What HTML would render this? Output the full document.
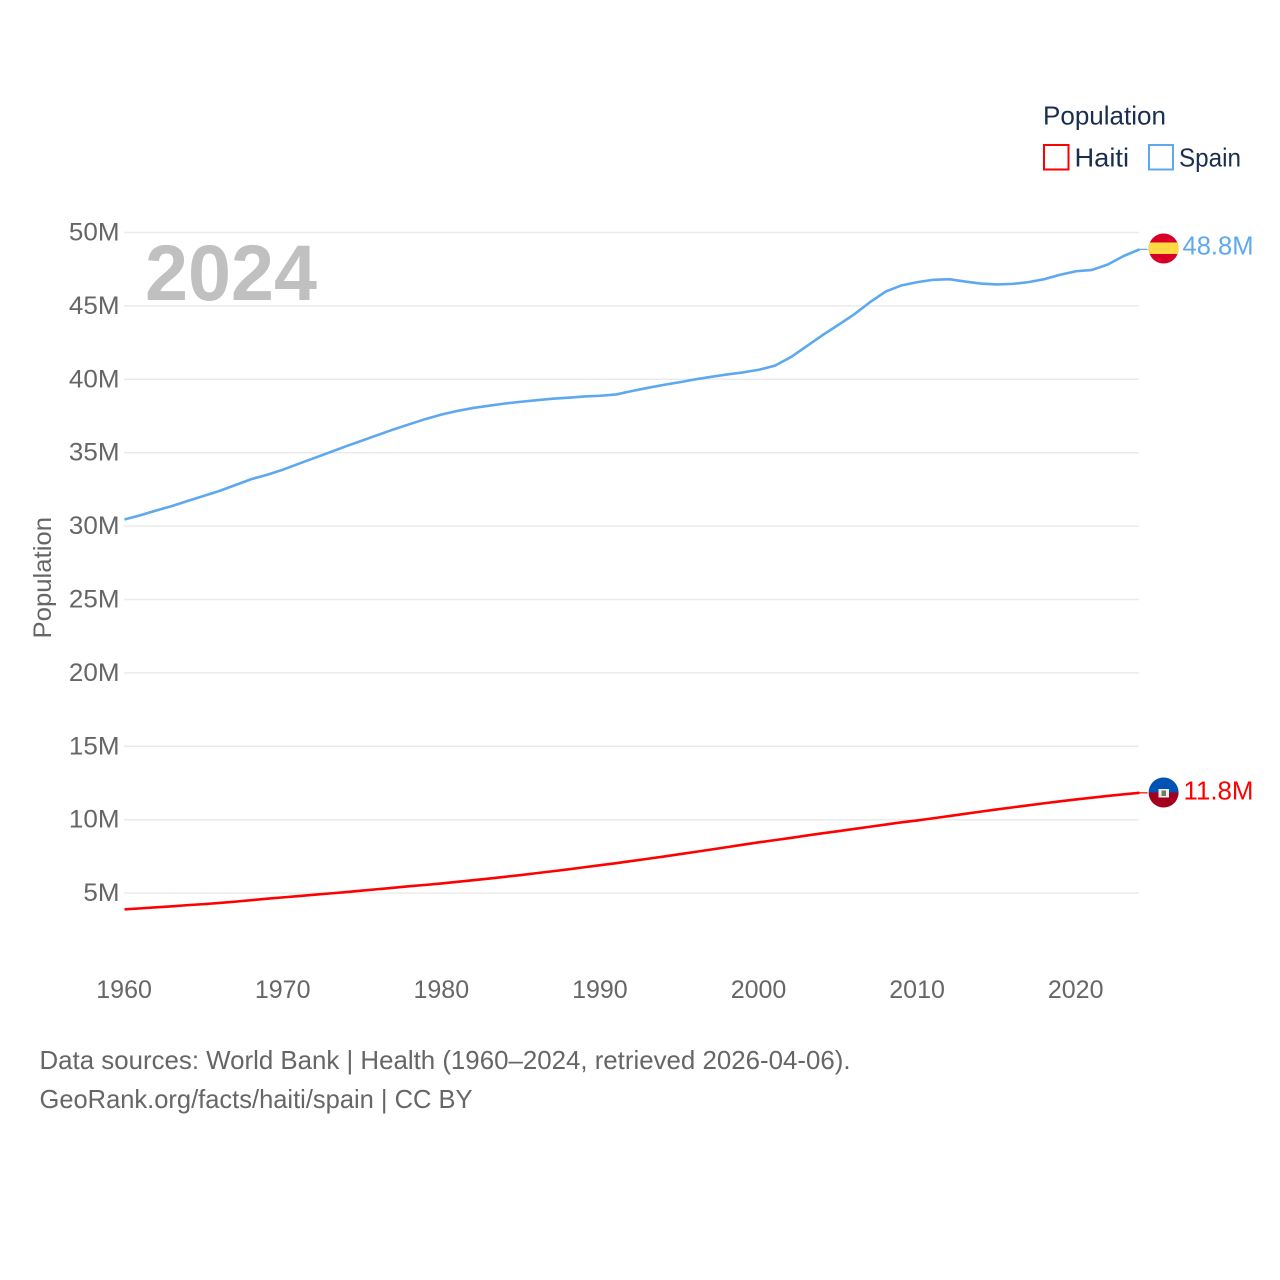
<!DOCTYPE html>
<html lang="en">
<head>
<meta charset="utf-8">
<title>Population: Haiti and Spain</title>
<style>
html,body{margin:0;padding:0;background:#fff;}
svg{display:block;font-family:"Liberation Sans",sans-serif;}
</style>
</head>
<body>
<svg id="chart" width="1280" height="1280" viewBox="0 0 1280 1280" xmlns="http://www.w3.org/2000/svg">
  <defs>
    <clipPath id="spain-clip"><circle cx="1163.6" cy="248.5" r="15"/></clipPath>
    <clipPath id="haiti-clip"><circle cx="1163.6" cy="792.5" r="15"/></clipPath>
  </defs>
  <rect x="0" y="0" width="1280" height="1280" fill="#fff"/>
  <g id="grid"></g>
  <g id="y-ticks"></g>
  <g id="x-ticks"></g>
  <text x="145" y="300" font-size="79" font-weight="700" fill="#c0c0c0" textLength="172" lengthAdjust="spacingAndGlyphs">2024</text>
  <text transform="translate(51,638.5) rotate(-90)" font-size="25" fill="#666" textLength="121.5" lengthAdjust="spacingAndGlyphs">Population</text>
  <g id="series"></g>

  <g clip-path="url(#spain-clip)">
    <rect x="1148" y="233" width="31" height="31" fill="#d80027"/>
    <rect x="1148" y="242.5" width="31" height="11.5" fill="#ffda44"/>
  </g>
  <g clip-path="url(#haiti-clip)">
    <rect x="1148" y="777" width="31" height="15.5" fill="#0052b4"/>
    <rect x="1148" y="792.5" width="31" height="16" fill="#a2001d"/>
    <rect x="1158.5" y="789" width="10.5" height="8.5" fill="#f0f0f0"/>
    <rect x="1161.5" y="790.5" width="4.5" height="5.5" fill="#6f7f5c"/>
  </g>
  <text x="1182.5" y="254.5" font-size="26" fill="#5ea8ef" textLength="71" lengthAdjust="spacingAndGlyphs">48.8M</text>
  <text x="1183.5" y="799.5" font-size="26" fill="#ff0000" textLength="70" lengthAdjust="spacingAndGlyphs">11.8M</text>

  <g>
    <text x="1043" y="124.5" font-size="26" fill="#1a2e4f" textLength="123" lengthAdjust="spacingAndGlyphs">Population</text>
    <g>
      <rect x="1044" y="145" width="24.5" height="24.5" fill="#fff" stroke="#ff0000" stroke-width="2"/>
      <text x="1074.5" y="166.5" font-size="26" fill="#1a2e4f" textLength="54.5" lengthAdjust="spacingAndGlyphs">Haiti</text>
    </g>
    <g>
      <rect x="1149" y="145" width="24" height="24.5" fill="#fff" stroke="#5ea8ef" stroke-width="2"/>
      <text x="1179" y="166.5" font-size="26" fill="#1a2e4f" textLength="62" lengthAdjust="spacingAndGlyphs">Spain</text>
    </g>
  </g>

  <text x="39.5" y="1069" font-size="26" fill="#666" textLength="811" lengthAdjust="spacingAndGlyphs">Data sources: World Bank | Health (1960–2024, retrieved 2026-04-06).</text>
  <text x="39.5" y="1108" font-size="26" fill="#666" textLength="433" lengthAdjust="spacingAndGlyphs">GeoRank.org/facts/haiti/spain | CC BY</text>
</svg>
<script>
const years = [1960,1961,1962,1963,1964,1965,1966,1967,1968,1969,1970,1971,1972,1973,1974,1975,1976,1977,1978,1979,1980,1981,1982,1983,1984,1985,1986,1987,1988,1989,1990,1991,1992,1993,1994,1995,1996,1997,1998,1999,2000,2001,2002,2003,2004,2005,2006,2007,2008,2009,2010,2011,2012,2013,2014,2015,2016,2017,2018,2019,2020,2021,2022,2023,2024];
const spainValues = [30.45,30.74,31.06,31.37,31.72,32.06,32.4,32.8,33.2,33.5,33.85,34.25,34.65,35.05,35.45,35.83,36.22,36.6,36.95,37.3,37.6,37.85,38.05,38.2,38.35,38.47,38.58,38.68,38.75,38.83,38.88,38.97,39.2,39.42,39.62,39.8,40.0,40.17,40.33,40.47,40.65,40.92,41.5,42.25,43.0,43.7,44.42,45.25,45.98,46.4,46.62,46.78,46.82,46.66,46.52,46.46,46.5,46.62,46.82,47.12,47.36,47.45,47.82,48.4,48.85];
const haitiValues = [3.89,3.96,4.03,4.1,4.18,4.25,4.33,4.42,4.52,4.62,4.71,4.8,4.89,4.98,5.07,5.17,5.27,5.37,5.47,5.56,5.66,5.77,5.88,5.99,6.11,6.23,6.36,6.49,6.62,6.76,6.9,7.04,7.19,7.34,7.49,7.65,7.81,7.97,8.13,8.3,8.46,8.61,8.76,8.92,9.07,9.22,9.37,9.52,9.67,9.82,9.95,10.1,10.25,10.4,10.55,10.7,10.84,10.98,11.12,11.25,11.38,11.5,11.62,11.73,11.83];
const yTickValues = [5,10,15,20,25,30,35,40,45,50];
const yTickLabels = ["5M","10M","15M","20M","25M","30M","35M","40M","45M","50M"];
const xTickValues = [1960,1970,1980,1990,2000,2010,2020];
const xTickLabels = ["1960","1970","1980","1990","2000","2010","2020"];

const SVG_NS = "http://www.w3.org/2000/svg";
const xScale = function (year) { return 124.5 + (year - 1960) * 15.86; };
const yScale = function (value) { return 232.5 + (50 - value) * 14.68; };

function make(tag, parent) {
  const node = document.createElementNS(SVG_NS, tag);
  parent.appendChild(node);
  return node;
}

const gridGroup = document.getElementById('grid');
const yTickGroup = document.getElementById('y-ticks');
const xTickGroup = document.getElementById('x-ticks');
const seriesGroup = document.getElementById('series');

yTickValues.forEach(function (value, i) {
  const line = make('line', gridGroup);
  
  
  line.setAttribute('x1', 124);
  line.setAttribute('x2', 1139);
  line.setAttribute('y1', yScale(value));
  line.setAttribute('y2', yScale(value));
  line.setAttribute('stroke', '#ebebeb');
  line.setAttribute('stroke-width', 1.5);

  const label = make('text', yTickGroup);
  
  
  label.setAttribute('x', 119.5);
  label.setAttribute('y', yScale(value) + 8);
  label.setAttribute('text-anchor', 'end');
  label.setAttribute('font-size', 25);
  label.setAttribute('fill', '#666');
  label.textContent = yTickLabels[i];
  label.setAttribute('lengthAdjust', 'spacingAndGlyphs');
  label.setAttribute('textLength', (label.getComputedTextLength() * 1.04).toFixed(1));
});

xTickValues.forEach(function (year, i) {
  const label = make('text', xTickGroup);
  
  
  label.setAttribute('x', xScale(year) - 0.4);
  label.setAttribute('y', 998);
  label.setAttribute('text-anchor', 'middle');
  label.setAttribute('font-size', 25);
  label.setAttribute('fill', '#666');
  label.textContent = xTickLabels[i];
});

function drawSeries(name, values, color) {
  const path = make('path', seriesGroup);
  
  
  path.setAttribute('d', values.map(function (v, i) {
    return (i ? 'L' : 'M') + xScale(years[i]).toFixed(2) + ' ' + yScale(v).toFixed(2);
  }).join(' '));
  path.setAttribute('fill', 'none');
  path.setAttribute('stroke', color);
  path.setAttribute('stroke-width', 2.6);
  path.setAttribute('stroke-linejoin', 'round');

  const last = values[values.length - 1];
  const lastYear = years[years.length - 1];
  const connector = make('line', seriesGroup);
  
  
  connector.setAttribute('x1', xScale(lastYear));
  connector.setAttribute('x2', xScale(lastYear) + 8);
  connector.setAttribute('y1', yScale(last));
  connector.setAttribute('y2', yScale(last));
  connector.setAttribute('stroke', color);
  connector.setAttribute('stroke-width', 1.2);
}

drawSeries('haiti', haitiValues, '#ff0000');
drawSeries('spain', spainValues, '#5ea8ef');
</script>
</body>
</html>
